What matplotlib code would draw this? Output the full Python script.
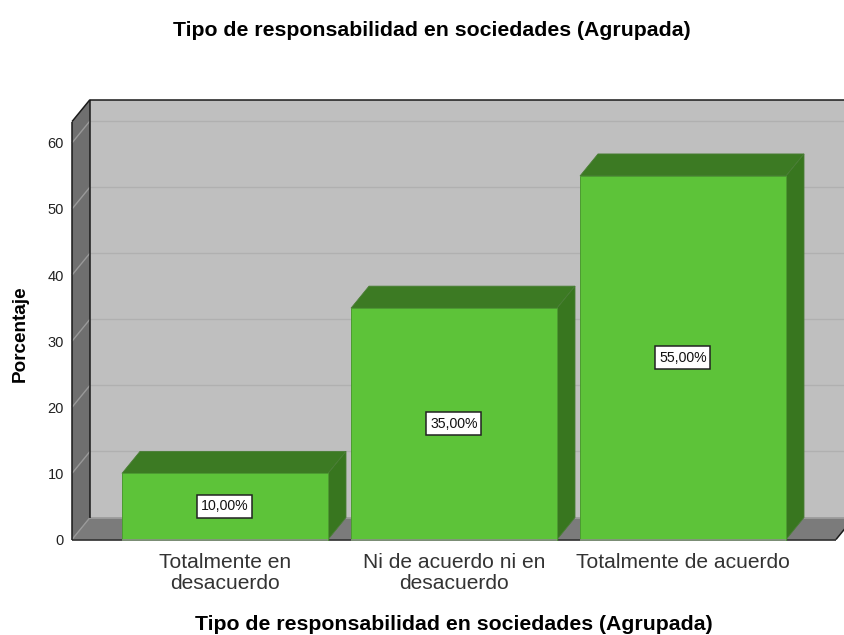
import matplotlib
matplotlib.use("Agg")
import matplotlib.pyplot as plt
import numpy as np
from matplotlib.patches import Polygon, Rectangle
from matplotlib.transforms import Affine2D

plt.rcParams['font.family'] = ['Liberation Sans', 'DejaVu Sans']

categories = ["Totalmente en\ndesacuerdo", "Ni de acuerdo ni en\ndesacuerdo", "Totalmente de acuerdo"]
values = [10, 35, 55]
value_labels = ["10,00%", "35,00%", "55,00%"]
yticks = [0, 10, 20, 30, 40, 50, 60]
title = "Tipo de responsabilidad en sociedades (Agrupada)"
ylabel = "Porcentaje"

W, H = 844, 635
DX, DY = 18, 22
BAR_W = 206 / 229

fig = plt.figure(figsize=(W / 100, H / 100), dpi=100, facecolor="white")
left, right, bottom, top = 72, 836, H - 539.5, H - 121.6
ax = fig.add_axes([left / W, bottom / H, (right - left) / W, (top - bottom) / H])
ax.set_xlim((72 - 225) / 229, (836 - 225) / 229)
ax.set_ylim(0, (539.5 - 121.6) / 6.61)
ax.patch.set_visible(False)
for s in ax.spines.values():
    s.set_visible(False)

front = ax.transData
back = ax.transData + Affine2D().translate(DX, DY)


def poly(points, z, fc, ec="none", lw=0.0):
    """points: list of ((x, y), is_back) in data coordinates"""
    xy = [(back if b else front).transform(p) for p, b in points]
    ax.add_patch(Polygon(np.array(xy), closed=True, transform=None, facecolor=fc,
                         edgecolor=ec, linewidth=lw, zorder=z, clip_on=False))


def seg(p0, b0, p1, b1, color, lw, z):
    a = (back if b0 else front).transform(p0)
    c = (back if b1 else front).transform(p1)
    ax.plot([a[0], c[0]], [a[1], c[1]], transform=None, color=color, lw=lw,
            zorder=z, clip_on=False, solid_capstyle="butt")


x0, x1 = ax.get_xlim()
y0, y1 = ax.get_ylim()

# walls and floor
poly([((x0, y0), True), ((x1, y0), True), ((x1, y1), True), ((x0, y1), True)], 1, "#bfbfbf")
poly([((x0, y0), False), ((x0, y0), True), ((x0, y1), True), ((x0, y1), False)], 1, "#6f6f6f")
poly([((x0, y0), False), ((x1, y0), False), ((x1, y0), True), ((x0, y0), True)], 1, "#7b7b7b")

# gridlines on walls
for t in yticks[1:]:
    seg((x0, t), False, (x0, t), True, "#999999", 1.0, 2)
    seg((x0, t), True, (x1, t), True, "#b0b0b0", 1.0, 2)
seg((x0, 0), False, (x0, 0), True, "#999999", 1.0, 2)
seg((x0, 0), True, (x1, 0), True, "#a0a0a0", 1.2, 2)

# frame
seg((x0, y1), True, (x1, y1), True, "#1a1a1a", 1.1, 3)
seg((x0, y0), True, (x0, y1), True, "#1a1a1a", 1.1, 3)
seg((x0, y0), False, (x0, y1), False, "#1a1a1a", 1.1, 3)
seg((x0, y1), False, (x0, y1), True, "#1a1a1a", 1.1, 3)
seg((x0, 0), False, (x1, 0), False, "#1a1a1a", 1.1, 3)
seg((x1, 0), False, (x1, 0), True, "#1a1a1a", 1.1, 3)

# bars
xs = np.arange(len(values))
for i, v in zip(xs, values):
    l, r = i - BAR_W / 2, i + BAR_W / 2
    poly([((l, v), False), ((r, v), False), ((r, v), True), ((l, v), True)], 4, "#3c7a23", "#4a7d36", 0.6)
    poly([((r, 0), False), ((r, 0), True), ((r, v), True), ((r, v), False)], 4, "#38761f", "#4a7d36", 0.6)
ax.bar(xs, values, width=BAR_W, color="#5dc339", edgecolor="#4c9a31", linewidth=0.7, zorder=5, clip_on=False)
for i in xs:
    l, r = i - BAR_W / 2, i + BAR_W / 2
    seg((l, 0), False, (r, 0), False, "#8a8a8a", 1.1, 6)

# value labels
for i, v, s in zip(xs, values, value_labels):
    cx, cy = ax.transData.transform((i, v / 2))
    ax.add_patch(Rectangle((cx - 27.5, cy - 11.5), 55, 23, transform=None, facecolor="white",
                           edgecolor="#222222", linewidth=1.1, zorder=7, clip_on=False))
    ax.text(i, v / 2, s, ha="center", va="center", fontsize=10.2, color="#111111", zorder=8)

# axes
ax.set_yticks(yticks)
ax.set_yticklabels([str(t) for t in yticks], fontsize=10.5, color="#222222")
ax.set_xticks(xs)
ax.set_xticklabels(categories, fontsize=15.1, color="#333333", linespacing=1.1)
ax.tick_params(axis="y", length=0, pad=5.8)
ax.tick_params(axis="x", length=0, pad=9.9)

fig.text(432 / W, 1 - 30 / H, title, ha="center", va="center", fontsize=15.3, fontweight="bold", color="black")
fig.text(453.5 / W, 1 - 625 / H, title, ha="center", va="center", fontsize=15.3, fontweight="bold", color="black")
fig.text(20 / W, 1 - 334 / H, ylabel, ha="center", va="center", rotation=90, fontsize=13.6, fontweight="bold", color="black")

fig.savefig("out.png", dpi=100, facecolor="white")
